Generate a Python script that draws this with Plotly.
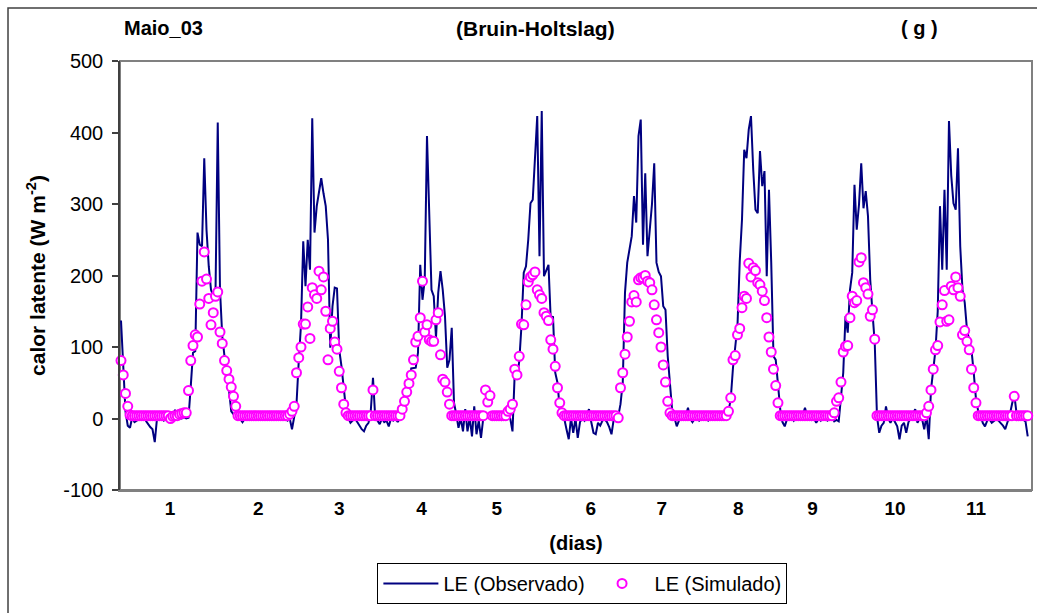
import plotly.graph_objects as go

# Latent heat flux, hourly series (W m-2), Maio_03
le_observado = [
    137, 70, 10, -10, -13, 2, -5, -3, 0, -2, 0, -3, -8, -12, -15, -33, 0, -2, 0, -3,
    0, 0, 0, 3, 12, 4, 0, 0, 2, 0,
    1, 45, 92, 94, 260, 243, 241, 364, 264, 213, 180, 171, 176, 414, 180, 115, 82, 59, 40, 10,
    6, 6, 4,
    0, -5, 0, 2, 0, 0, -2, 0, 0, 2, 0, 0, 0, -2, 0, 0, 2, 0, 0, 0, 0, -3,
    0, -15, 0, 20, 80, 131, 248, 185, 250, 208, 420, 260, 297, 320, 336, 315, 297, 250, 99, 157,
    183, 182, 96, 73, 40, 13, 1,
    -6, -3, 0, -5, -10, -15, -18, -10, -6, 10, 57, 1, -3, -8, 0, -5, -3, -11, 0, -3, 0, -5,
    1, 18, 30, 38, 50, 70, 71, 71, 92, 215, 166, 194, 395, 297, 180, 171, 113, 176, 206, 180,
    143, 71, 82, 127, 22, 6,
    -13, 0, -18, 13, -18, 1, -25, 17, -22, -3, -27, 0, 5, 3, 0, 0, 2, 0, 0, -2,
    0, 3, 5, 0, -18, 64,
    57, 80, 130, 204, 213, 250, 301, 306, 362, 423, 227, 430, 199, 208, 215, 138, 143, 64, 50, 13, 6,
    0, -15, -29, 1, -20, 0, -27, -5, 0, -3, 5, 13, -5, -20, -22, -6, -10, -3, -1, -5,
    -12, -22, -1, 0, 3,
    20, 50, 176, 218, 240, 255, 311, 274, 395, 418, 243, 343, 227, 267, 300, 357, 218, 205, 199, 157,
    152, 87, 41, 10,
    1, -11, -3, 0, 5, 3, 15, 0, -5, 0, 3, -3, 0, 5, 0, -3, 0, 2, 0, -2, 0, 3, 0, 5,
    10, 27, 71, 100, 130, 220, 278, 376, 364, 404, 423, 348, 292, 287, 374, 325, 346, 199, 320, 218,
    87, 82, 41, 13,
    -5, -11, -1, 0, 1, -3, 2, 0, 1, 5, 15, 3, 0, -2, 0, -6, 0, -3, 2, 0, -3, 0, 2, -4,
    -2, -4, 30, 64, 143, 120, 180, 204, 327, 264, 299, 357, 294, 318, 283, 194, 148, 106, 3,
    -20, -10, -6, 17, 0, -6, 1, -5, -11, -29, -10, -6, -20, -5, 1, 5, 13, -6, 1, 0, -15, 3, -29,
    40, 70, 96, 150, 297, 208, 320, 208, 416, 340, 301, 292, 378, 241, 180, 162, 124, 110, 96, 64,
    27, 10, 6,
    -6, -11, -3, -1, -6, -3, -1, -3, -6, -10, -15, -5, 5, 20, 34, 8, 3, 1, -2, -4, -25,
]

le_simulado = [
    81, 61, 35, 17, 5, 4, 4, 4, 4, 4, 4, 4, 4, 4, 4, 4, 4, 4, 4, 4,
    4, 4, 0, 3, 4, 4, 6, 7, 8, 8,
    39, 81, 102, 117, 114, 160, 192, 233, 195, 168, 131, 148, 171, 177, 121, 105, 81, 67, 55, 44,
    31, 17, 4,
    4, 4, 4, 4, 4, 4, 4, 4, 4, 4, 4, 4, 4, 4, 4, 4, 4, 4, 4, 4, 4, 4,
    6, 10, 17, 64, 85, 100, 132, 132, 156, 112, 183, 173, 168, 206, 180, 198, 150, 82, 126, 136,
    107, 97, 66, 43, 20, 8, 4,
    4, 4, 4, 4, 4, 4, 4, 4, 4, 4, 40, 4, 4, 4, 4, 4, 4, 4, 4, 4, 4, 4,
    4, 13, 24, 37, 49, 61, 82, 107, 115, 141, 192, 121, 131, 110, 108, 108, 138, 148, 89, 55,
    51, 37, 20, 4, 4, 4,
    4, 4, 4, 4, 4, 4, 4, 4, 4, 4, 4, 4, 40, 23, 32, 4, 4, 4, 4, 4, 4, 4, 10, 13, 20,
    69, 61, 87, 132, 131, 159, 191, 198, 201, 205, 180, 173, 168, 148, 143, 137, 110, 97, 73, 43,
    22, 8,
    4, 4, 4, 4, 4, 4, 4, 4, 4, 4, 4, 4, 4, 4, 4, 4, 4, 4, 4, 4, 4, 4, 4, 4, 1,
    43, 64, 90, 114, 136, 163, 172, 163, 194, 197, 197, 200, 192, 190, 180, 159, 138, 120, 100, 75,
    51, 24, 8,
    4, 4, 4, 4, 4, 4, 4, 4, 4, 4, 4, 4, 4, 4, 4, 4, 4, 4, 4, 4, 4, 4, 4, 4, 4,
    10, 29, 82, 88, 117, 126, 155, 171, 168, 217, 198, 211, 207, 190, 187, 178, 165, 141, 114, 93,
    69, 46, 22, 4,
    4, 4, 4, 4, 4, 4, 4, 4, 4, 4, 4, 4, 4, 4, 4, 4, 4, 4, 4, 4, 4, 4, 4, 8,
    24, 29, 51, 93, 101, 102, 141, 171, 162, 165, 219, 225, 190, 183, 174, 143, 152, 111,
    4, 4, 4, 4, 4, 4, 4, 4, 4, 4, 4, 4, 4, 4, 4, 4, 4, 4, 4, 4, 4, 4, 8, 17,
    40, 69, 96, 102, 135, 159, 179, 136, 138, 185, 180, 198, 183, 171, 117, 123, 108, 96, 69, 43,
    22, 4,
    4, 4, 4, 4, 4, 4, 4, 4, 4, 4, 4, 4, 4, 4, 4, 31, 4, 4, 4, 4, 4, 4,
]

# day labels along the category axis and the sample index each one sits at
dia_labels = ["1", "2", "3", "4", "5", "6", "7", "8", "9", "10", "11"]
dia_pos = [21.8, 61.0, 97.0, 133.6, 167.0, 208.8, 240.3, 274.4, 307.4, 344.0, 380.0]

# value axis ticks (plain hyphen for the negative label)
le_ticks = [-100, 0, 100, 200, 300, 400, 500]
le_ticktext = ["-100", "0", "100", "200", "300", "400", "500"]

amostra = list(range(len(le_observado)))

FONT = "Liberation Sans, Arial, sans-serif"

fig = go.Figure()
fig.add_trace(go.Scatter(
    x=amostra, y=le_observado, mode="lines", name="LE (Observado)",
    line=dict(color="#000080", width=2), cliponaxis=False,
))
fig.add_trace(go.Scatter(
    x=amostra, y=le_simulado, mode="markers", name="LE (Simulado)",
    marker=dict(symbol="circle", size=9, color="white",
                line=dict(color="#FF00FF", width=2)),
    cliponaxis=False,
))

fig.update_layout(
    width=1037, height=613,
    margin=dict(l=120, r=5, t=61, b=123),
    paper_bgcolor="white", plot_bgcolor="white",
    font=dict(family=FONT, size=19, color="black"),
    showlegend=True,
    legend=dict(
        orientation="h", x=0.507, xanchor="center", y=-0.17, yanchor="top",
        bordercolor="black", borderwidth=1, font=dict(size=20, family=FONT),
        itemwidth=55,
    ),
    xaxis=dict(
        range=[-0.444, 404.9], showgrid=False, zeroline=False,
        tickmode="array", tickvals=dia_pos, ticktext=dia_labels,
        ticks="", showline=True, linecolor="#808080", linewidth=2,
        tickfont=dict(size=19, family=FONT, weight="bold"),
        title=dict(text="<b>(dias)</b>", font=dict(size=20, family=FONT), standoff=18),
    ),
    yaxis=dict(
        range=[-100, 500], showgrid=False, zeroline=False,
        tickmode="array", tickvals=le_ticks, ticktext=le_ticktext,
        ticks="outside", ticklen=6, tickwidth=1.5, tickcolor="#404040",
        ticklabelstandoff=5,
        showline=True, linecolor="#404040", linewidth=1.5,
        tickfont=dict(size=20, family=FONT),
        title=dict(text="<b>calor latente (W m<sup>-2</sup>)</b>",
                   font=dict(size=21, family=FONT), standoff=12),
    ),
    shapes=[
        # plot area frame
        dict(type="rect", xref="paper", yref="paper", x0=0, x1=1, y0=0, y1=1,
             line=dict(color="#808080", width=2), layer="below"),
        # chart frame
        dict(type="rect", xref="paper", yref="paper",
             x0=-0.1228, x1=1.02, y0=-0.32, y1=1.1235,
             line=dict(color="#404040", width=1.5), layer="below"),
    ],
    annotations=[
        dict(text="<b>Maio_03</b>", xref="paper", yref="paper",
             x=(122 - 120) / 912, y=(490 - 28) / 429, xanchor="left", yanchor="middle",
             showarrow=False, font=dict(size=20, family=FONT)),
        dict(text="<b>(Bruin-Holtslag)</b>", xref="paper", yref="paper",
             x=(535 - 120) / 912, y=(490 - 28) / 429, xanchor="center", yanchor="middle",
             showarrow=False, font=dict(size=21, family=FONT)),
        dict(text="<b>( g )</b>", xref="paper", yref="paper",
             x=(919 - 120) / 912, y=(490 - 28) / 429, xanchor="center", yanchor="middle",
             showarrow=False, font=dict(size=20, family=FONT)),
    ],
)

fig.write_html("out.html")
